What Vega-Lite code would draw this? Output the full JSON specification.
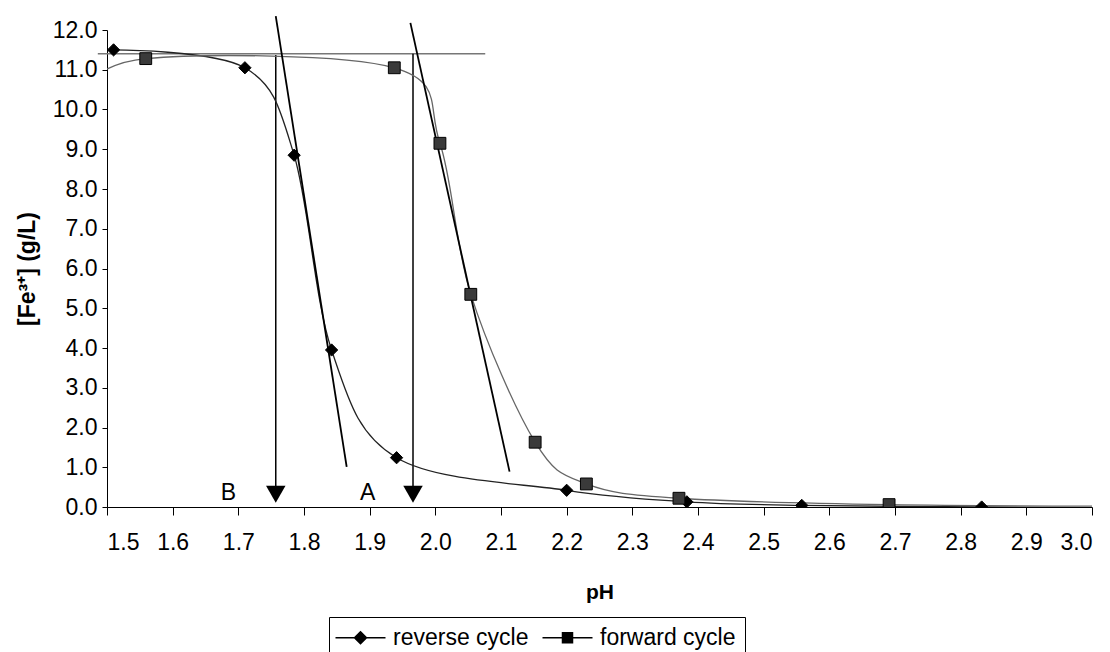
{
  "$schema": "https://vega.github.io/schema/vega-lite/v6.json",
  "width": 985,
  "height": 477,
  "autosize": {"type": "none"},
  "padding": {"left": 107, "top": 30, "right": 18, "bottom": 145},
  "background": "white",
  "config": {
    "view": {"stroke": null},
    "font": "Liberation Sans",
    "axis": {
      "grid": false,
      "domainColor": "black",
      "domainWidth": 1,
      "tickColor": "black",
      "tickWidth": 1,
      "labelColor": "black",
      "labelFont": "Liberation Sans",
      "labelFontSize": 23,
      "titleColor": "black",
      "titleFont": "Liberation Sans",
      "titleFontSize": 21,
      "titleFontWeight": "bold"
    },
    "legend": {
      "title": null,
      "orient": "none",
      "legendX": 222,
      "legendY": 587,
      "direction": "horizontal",
      "symbolSize": 100,
      "symbolOffset": 11,
      "labelOffset": 21,
      "columnPadding": 10,
      "padding": 9,
      "strokeColor": "black",
      "fillColor": "white",
      "labelFont": "Liberation Sans",
      "labelFontSize": 23,
      "labelColor": "black"
    }
  },
  "datasets": {
    "pts": [
      {"series": "reverse cycle", "pH": 1.51, "fe": 11.5},
      {"series": "reverse cycle", "pH": 1.71, "fe": 11.05},
      {"series": "reverse cycle", "pH": 1.785, "fe": 8.85},
      {"series": "reverse cycle", "pH": 1.842, "fe": 3.95},
      {"series": "reverse cycle", "pH": 1.941, "fe": 1.24},
      {"series": "reverse cycle", "pH": 2.2, "fe": 0.42},
      {"series": "reverse cycle", "pH": 2.383, "fe": 0.13},
      {"series": "reverse cycle", "pH": 2.558, "fe": 0.04},
      {"series": "reverse cycle", "pH": 2.832, "fe": 0.0},
      {"series": "reverse cycle", "pH": 3.08, "fe": -0.02},
      {"series": "forward cycle", "pH": 1.45, "fe": 10.3},
      {"series": "forward cycle", "pH": 1.559, "fe": 11.28},
      {"series": "forward cycle", "pH": 1.9375, "fe": 11.05},
      {"series": "forward cycle", "pH": 2.007, "fe": 9.15},
      {"series": "forward cycle", "pH": 2.054, "fe": 5.35},
      {"series": "forward cycle", "pH": 2.152, "fe": 1.63},
      {"series": "forward cycle", "pH": 2.23, "fe": 0.58},
      {"series": "forward cycle", "pH": 2.371, "fe": 0.22},
      {"series": "forward cycle", "pH": 2.691, "fe": 0.06},
      {"series": "forward cycle", "pH": 3.08, "fe": 0.02}
    ],
    "hline": [
      {"pH": 1.486, "fe": 11.4},
      {"pH": 2.076, "fe": 11.4}
    ],
    "vlines": [
      {"id": "B", "pH": 1.757, "fe": 11.37},
      {"id": "B", "pH": 1.757, "fe": 0.3},
      {"id": "A", "pH": 1.966, "fe": 11.4},
      {"id": "A", "pH": 1.966, "fe": 0.3}
    ],
    "tangents": [
      {"id": "B", "pH": 1.757, "fe": 12.35},
      {"id": "B", "pH": 1.865, "fe": 1.01},
      {"id": "A", "pH": 1.962, "fe": 12.18},
      {"id": "A", "pH": 2.113, "fe": 0.89}
    ],
    "arrows": [
      {"id": "B", "pH": 1.757, "fe": 0.32},
      {"id": "A", "pH": 1.966, "fe": 0.32}
    ],
    "labels": [
      {"label": "B", "pH": 1.685, "fe": 0.34},
      {"label": "A", "pH": 1.897, "fe": 0.34}
    ]
  },
  "encoding": {
    "x": {
      "field": "pH",
      "type": "quantitative",
      "scale": {"domain": [1.5, 3.0], "nice": false, "zero": false},
      "axis": {
        "values": [1.5, 1.6, 1.7, 1.8, 1.9, 2.0, 2.1, 2.2, 2.3, 2.4, 2.5, 2.6, 2.7, 2.8, 2.9, 3.0],
        "format": ".1f",
        "title": "pH",
        "tickSize": 8,
        "labelPadding": 16,
        "titleY": 74
      }
    },
    "y": {
      "field": "fe",
      "type": "quantitative",
      "scale": {"domain": [0, 12], "nice": false, "zero": false},
      "axis": {
        "values": [0, 1, 2, 3, 4, 5, 6, 7, 8, 9, 10, 11, 12],
        "format": ".1f",
        "title": "[Fe³⁺] (g/L)",
        "titleFontSize": 23,
        "tickSize": 5,
        "labelPadding": 5,
        "titleX": -68,
        "titleY": 238.5
      }
    }
  },
  "layer": [
    {
      "data": {"name": "hline"},
      "mark": {"type": "line", "color": "#777777", "strokeWidth": 1.5, "clip": false},
      "encoding": {}
    },
    {
      "data": {"name": "vlines"},
      "mark": {"type": "line", "color": "black", "strokeWidth": 1.5, "clip": false},
      "encoding": {"detail": {"field": "id", "type": "nominal"}}
    },
    {
      "data": {"name": "pts"},
      "transform": [{"filter": "datum.series === 'reverse cycle'"}],
      "mark": {"type": "line", "interpolate": "cardinal", "clip": true, "strokeWidth": 1.3, "color": "#222222"},
      "encoding": {}
    },
    {
      "data": {"name": "pts"},
      "transform": [{"filter": "datum.series === 'forward cycle'"}],
      "mark": {"type": "line", "interpolate": "cardinal", "clip": true, "strokeWidth": 1.3, "color": "#666666"},
      "encoding": {}
    },
    {
      "data": {"name": "tangents"},
      "mark": {"type": "line", "color": "black", "strokeWidth": 1.8, "clip": false},
      "encoding": {"detail": {"field": "id", "type": "nominal"}}
    },
    {
      "data": {"name": "pts"},
      "transform": [{"filter": "datum.series === 'reverse cycle'"}],
      "mark": {"type": "point", "shape": "diamond", "filled": true, "size": 150, "clip": true, "fill": "black", "stroke": "black", "strokeWidth": 1, "opacity": 1},
      "encoding": {}
    },
    {
      "data": {"name": "pts"},
      "transform": [{"filter": "datum.series === 'forward cycle'"}],
      "mark": {"type": "point", "shape": "square", "filled": true, "size": 140, "clip": true, "fill": "#3a3a3a", "stroke": "black", "strokeWidth": 1, "opacity": 1},
      "encoding": {}
    },
    {
      "data": {"name": "pts"},
      "mark": {"type": "point", "filled": true, "size": 100, "clip": true, "fill": "black", "stroke": "black", "strokeWidth": 1, "opacity": 0},
      "encoding": {
        "shape": {
          "field": "series",
          "type": "nominal",
          "scale": {
            "domain": ["reverse cycle", "forward cycle"],
            "range": ["M-5,0H5M0,-1.2L1.2,0L0,1.2L-1.2,0Z", "M-5,0H5M-1,-1H1V1H-1Z"]
          },
          "legend": {
            "encode": {
              "symbols": {
                "fill": {
                  "condition": {"test": "datum.value === 'reverse cycle'", "value": "black"},
                  "value": "#3a3a3a"
                },
                "fillOpacity": {"value": 1},
                "stroke": {"value": "black"},
                "strokeOpacity": {"value": 1},
                "strokeWidth": {"value": 1},
                "opacity": {"value": 1}
              }
            }
          }
        }
      }
    },
    {
      "data": {"name": "arrows"},
      "mark": {"type": "point", "shape": "triangle-down", "filled": true, "color": "black", "size": 380, "opacity": 1, "clip": false},
      "encoding": {}
    },
    {
      "data": {"name": "labels"},
      "mark": {"type": "text", "font": "Liberation Sans", "fontSize": 23, "color": "black", "align": "center", "baseline": "middle"},
      "encoding": {"text": {"field": "label", "type": "nominal"}}
    }
  ]
}
